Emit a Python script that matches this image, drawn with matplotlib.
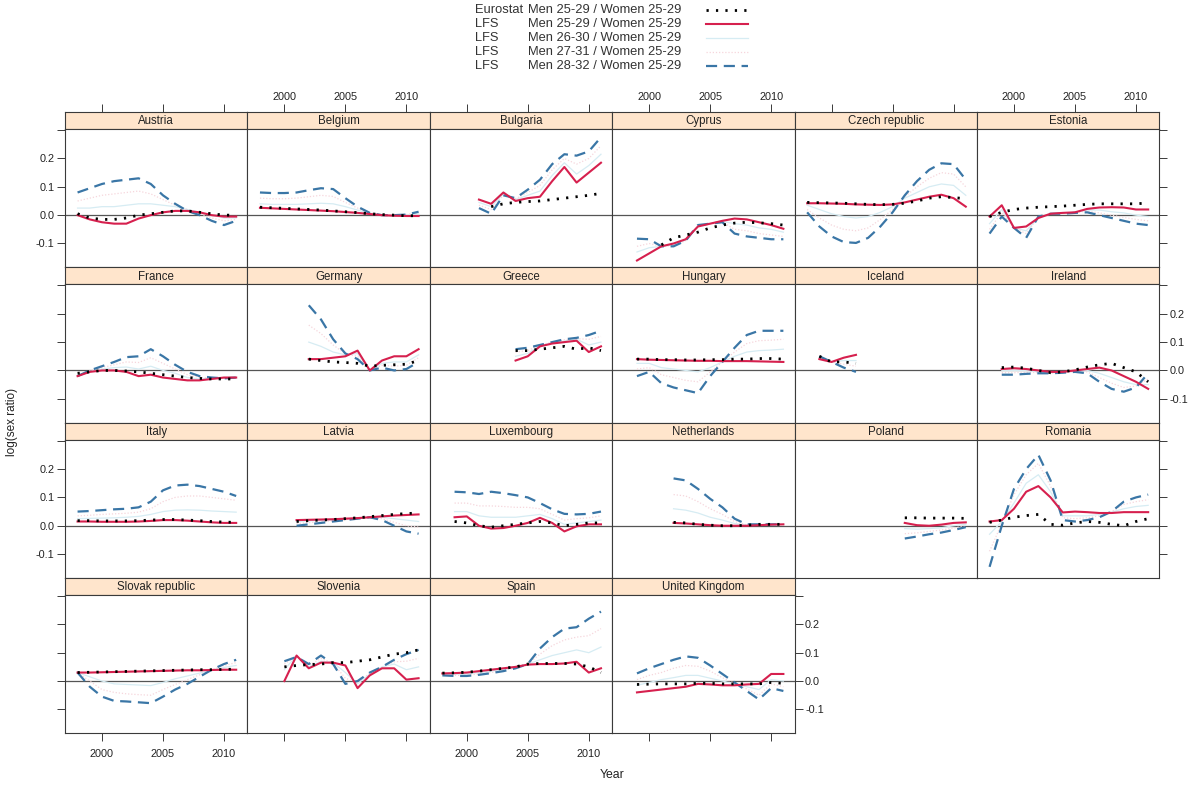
import numpy as np
import matplotlib
matplotlib.use('Agg')
import matplotlib.pyplot as plt
from matplotlib.lines import Line2D

plt.rcParams['font.family'] = ['Liberation Sans', 'DejaVu Sans']

N = np.nan
years = list(range(1998, 2012))

countries = ["Austria", "Belgium", "Bulgaria", "Cyprus", "Czech republic", "Estonia",
             "France", "Germany", "Greece", "Hungary", "Iceland", "Ireland",
             "Italy", "Latvia", "Luxembourg", "Netherlands", "Poland", "Romania",
             "Slovak republic", "Slovenia", "Spain", "United Kingdom"]

# Eurostat Men 25-29 / Women 25-29
eurostat = {
    "Austria": [0.005, -0.01, -0.015, -0.015, -0.01, 0.0, 0.005, 0.01, 0.015, 0.015, 0.01, 0.005, 0.0, 0.0],
    "Belgium": [0.028, 0.026, 0.024, 0.022, 0.02, 0.018, 0.015, 0.012, 0.009, 0.005, 0.002, 0.0, -0.002, -0.002],
    "Bulgaria": [N, N, N, N, 0.03, 0.04, 0.045, 0.048, 0.05, 0.055, 0.06, 0.065, 0.07, 0.077],
    "Cyprus": [N, N, N, -0.105, -0.08, -0.07, -0.06, -0.045, -0.035, -0.028, -0.025, -0.027, -0.03, -0.035],
    "Czech republic": [0.045, 0.044, 0.043, 0.042, 0.04, 0.038, 0.037, 0.038, 0.042, 0.05, 0.06, 0.065, 0.062, 0.058],
    "Estonia": [-0.005, 0.01, 0.02, 0.025, 0.028, 0.03, 0.032, 0.035, 0.038, 0.04, 0.04, 0.04, 0.04, 0.043],
    "France": [-0.01, -0.005, 0.0, 0.0, -0.002, -0.005, -0.01, -0.015, -0.02, -0.025, -0.028, -0.03, -0.03, -0.03],
    "Germany": [N, N, N, N, 0.04, 0.035, 0.03, 0.028, 0.025, 0.015, 0.018, 0.02, 0.022, 0.035],
    "Greece": [N, N, N, N, N, N, 0.07, 0.07, 0.075, 0.08, 0.085, 0.075, 0.08, 0.07],
    "Hungary": [N, 0.04, 0.04, 0.038, 0.038, 0.037, 0.037, 0.038, 0.038, 0.04, 0.04, 0.042, 0.042, 0.04],
    "Iceland": [N, 0.05, 0.03, 0.03, 0.025, N, N, N, N, N, N, N, N, N],
    "Ireland": [N, 0.01, 0.012, 0.008, 0.0, -0.008, -0.005, 0.002, 0.012, 0.02, 0.025, 0.01, -0.005, -0.04],
    "Italy": [0.018, 0.018, 0.017, 0.017, 0.017, 0.018, 0.02, 0.022, 0.022, 0.02, 0.018, 0.015, 0.013, 0.012],
    "Latvia": [N, N, N, 0.015, 0.018, 0.02, 0.022, 0.025, 0.028, 0.032, 0.036, 0.04, 0.043, 0.045],
    "Luxembourg": [N, 0.015, 0.01, 0.0, -0.005, 0.0, 0.005, 0.01, 0.015, 0.01, 0.0, 0.005, 0.01, 0.01],
    "Netherlands": [N, N, N, N, 0.012, 0.01, 0.005, 0.002, 0.0, 0.0, 0.002, 0.005, 0.005, 0.005],
    "Poland": [N, N, N, N, N, N, N, N, 0.028, 0.028, 0.027, 0.027, 0.027, 0.026],
    "Romania": [0.012, 0.02, 0.03, 0.036, 0.04, 0.005, 0.002, 0.01, 0.015, 0.012, 0.005, 0.0, 0.015, 0.025],
    "Slovak republic": [0.03, 0.031, 0.032, 0.033, 0.034, 0.035, 0.036, 0.037, 0.038, 0.039, 0.04, 0.04, 0.041, 0.042],
    "Slovenia": [N, N, 0.05, 0.055, 0.058, 0.06, 0.065, 0.065, 0.07, 0.075, 0.085, 0.095, 0.1, 0.11],
    "Spain": [0.028, 0.029, 0.031, 0.035, 0.04, 0.045, 0.05, 0.06, 0.062, 0.062, 0.062, 0.06, 0.05, 0.03],
    "United Kingdom": [N, -0.012, -0.011, -0.01, -0.01, -0.01, -0.008, -0.008, -0.01, -0.01, -0.01, -0.01, -0.005, -0.008],
}

# LFS Men 25-29 / Women 25-29
lfs_25_29 = {
    "Austria": [0.0, -0.015, -0.025, -0.03, -0.03, -0.012, 0.0, 0.01, 0.015, 0.015, 0.01, 0.0, -0.005, -0.005],
    "Belgium": [0.026, 0.024, 0.022, 0.02, 0.018, 0.016, 0.014, 0.011, 0.008, 0.004, 0.0, -0.002, -0.003, -0.003],
    "Bulgaria": [N, N, N, 0.055, 0.04, 0.08, 0.05, 0.06, 0.065, 0.12, 0.17, 0.115, 0.15, 0.185],
    "Cyprus": [N, -0.16, -0.135, -0.11, -0.1, -0.085, -0.04, -0.03, -0.02, -0.012, -0.015, -0.025, -0.035, -0.048],
    "Czech republic": [0.042, 0.042, 0.041, 0.04, 0.038, 0.037, 0.036, 0.038, 0.045, 0.055, 0.065, 0.072, 0.06, 0.03],
    "Estonia": [-0.005, 0.035, -0.045, -0.04, -0.01, 0.005, 0.008, 0.01, 0.022, 0.027, 0.028, 0.027, 0.02, 0.02],
    "France": [-0.02, -0.005, 0.0, 0.0, -0.005, -0.02, -0.015, -0.025, -0.03, -0.035, -0.035, -0.03, -0.025, -0.025],
    "Germany": [N, N, N, N, 0.04, 0.04, 0.045, 0.05, 0.07, 0.0, 0.035, 0.05, 0.05, 0.075],
    "Greece": [N, N, N, N, N, N, 0.035, 0.05, 0.085, 0.095, 0.1, 0.105, 0.065, 0.085],
    "Hungary": [N, 0.04, 0.038, 0.037, 0.036, 0.035, 0.034, 0.034, 0.033, 0.033, 0.033, 0.032, 0.031, 0.03],
    "Iceland": [N, 0.04, 0.03, 0.045, 0.055, N, N, N, N, N, N, N, N, N],
    "Ireland": [N, 0.005, 0.008, 0.005, 0.0, -0.005, -0.005, 0.0, 0.005, 0.01, 0.0, -0.02, -0.04, -0.065],
    "Italy": [0.015, 0.015, 0.014, 0.014, 0.014, 0.015, 0.017, 0.02, 0.02, 0.018, 0.015, 0.012, 0.01, 0.01],
    "Latvia": [N, N, N, 0.02, 0.021, 0.022, 0.023, 0.025, 0.027, 0.03, 0.033, 0.036, 0.038, 0.04],
    "Luxembourg": [N, 0.03, 0.033, 0.0, -0.01, -0.008, 0.0, 0.01, 0.028, 0.01, -0.02, -0.002, 0.005, 0.005],
    "Netherlands": [N, N, N, N, 0.01, 0.008, 0.005, 0.002, 0.0, 0.0, 0.0, 0.002, 0.004, 0.005],
    "Poland": [N, N, N, N, N, N, N, N, 0.01, 0.002, 0.0, 0.004, 0.01, 0.012],
    "Romania": [0.015, 0.02, 0.06, 0.12, 0.14, 0.1, 0.047, 0.05, 0.048, 0.045, 0.045, 0.048, 0.048, 0.048],
    "Slovak republic": [0.03, 0.03, 0.031, 0.032, 0.033, 0.034, 0.035, 0.036, 0.037, 0.038, 0.038, 0.039, 0.04, 0.04],
    "Slovenia": [N, N, 0.0, 0.09, 0.045, 0.065, 0.065, 0.055, -0.025, 0.02, 0.045, 0.045, 0.005, 0.01],
    "Spain": [0.027, 0.028, 0.03, 0.035, 0.04, 0.045, 0.05, 0.058, 0.06, 0.06, 0.062, 0.068, 0.03, 0.045],
    "United Kingdom": [N, -0.04, -0.035, -0.03, -0.025, -0.02, -0.01, -0.012, -0.015, -0.015, -0.012, -0.01, 0.025, 0.025],
}

# LFS Men 26-30 / Women 25-29
lfs_26_30 = {
    "Austria": [0.025, 0.025, 0.03, 0.03, 0.035, 0.04, 0.04, 0.035, 0.03, 0.02, 0.01, 0.0, -0.01, -0.01],
    "Belgium": [0.04, 0.038, 0.038, 0.038, 0.04, 0.042, 0.04, 0.03, 0.018, 0.006, 0.0, 0.0, 0.0, 0.005],
    "Bulgaria": [N, N, N, 0.045, 0.03, 0.075, 0.055, 0.07, 0.085, 0.14, 0.185, 0.145, 0.175, 0.215],
    "Cyprus": [N, -0.13, -0.115, -0.11, -0.105, -0.088, -0.038, -0.03, -0.022, -0.03, -0.035, -0.045, -0.05, -0.06],
    "Czech republic": [0.035, 0.02, 0.005, -0.005, -0.01, -0.005, 0.01, 0.03, 0.06, 0.08, 0.1, 0.11, 0.105, 0.07],
    "Estonia": [-0.03, 0.02, -0.045, -0.055, -0.01, 0.005, 0.007, 0.01, 0.018, 0.018, 0.012, 0.008, 0.0, -0.005],
    "France": [-0.02, -0.003, 0.005, 0.01, 0.012, 0.005, 0.015, 0.0, -0.01, -0.025, -0.03, -0.028, -0.025, -0.025],
    "Germany": [N, N, N, N, 0.1, 0.085, 0.065, 0.055, 0.06, 0.0, 0.025, 0.03, 0.03, 0.055],
    "Greece": [N, N, N, N, N, N, 0.05, 0.06, 0.088, 0.097, 0.104, 0.11, 0.09, 0.1],
    "Hungary": [N, 0.025, 0.025, 0.01, 0.005, 0.0, -0.005, 0.01, 0.03, 0.05, 0.065, 0.07, 0.072, 0.075],
    "Iceland": [N, 0.045, 0.03, 0.035, 0.035, N, N, N, N, N, N, N, N, N],
    "Ireland": [N, 0.0, 0.0, 0.0, -0.005, -0.008, -0.006, -0.002, 0.0, -0.01, -0.025, -0.04, -0.05, -0.05],
    "Italy": [0.025, 0.026, 0.027, 0.028, 0.03, 0.033, 0.04, 0.05, 0.055, 0.056, 0.055, 0.052, 0.05, 0.048],
    "Latvia": [N, N, N, 0.015, 0.017, 0.019, 0.021, 0.024, 0.027, 0.03, 0.03, 0.025, 0.02, 0.015],
    "Luxembourg": [N, 0.05, 0.05, 0.035, 0.03, 0.03, 0.03, 0.035, 0.04, 0.025, 0.005, 0.01, 0.015, 0.02],
    "Netherlands": [N, N, N, N, 0.06, 0.055, 0.045, 0.03, 0.02, 0.008, 0.002, 0.003, 0.004, 0.005],
    "Poland": [N, N, N, N, N, N, N, N, -0.01, -0.012, -0.01, -0.007, 0.0, 0.005],
    "Romania": [-0.03, 0.015, 0.08, 0.15, 0.18, 0.12, 0.035, 0.035, 0.035, 0.04, 0.048, 0.06, 0.068, 0.072],
    "Slovak republic": [0.03, 0.015, 0.0, -0.01, -0.012, -0.014, -0.016, -0.005, 0.008, 0.018, 0.028, 0.038, 0.048, 0.055],
    "Slovenia": [N, N, 0.04, 0.09, 0.05, 0.07, 0.065, 0.03, -0.01, 0.025, 0.05, 0.06, 0.04, 0.05],
    "Spain": [0.025, 0.024, 0.025, 0.03, 0.035, 0.04, 0.048, 0.06, 0.075, 0.09, 0.1, 0.11, 0.1, 0.12],
    "United Kingdom": [N, -0.015, -0.005, 0.005, 0.012, 0.02, 0.02, 0.01, 0.0, -0.01, -0.02, -0.03, 0.005, 0.0],
}

# LFS Men 27-31 / Women 25-29
lfs_27_31 = {
    "Austria": [0.05, 0.06, 0.07, 0.075, 0.08, 0.085, 0.075, 0.055, 0.035, 0.02, 0.005, -0.01, -0.02, -0.015],
    "Belgium": [0.06, 0.058, 0.058, 0.06, 0.065, 0.07, 0.066, 0.045, 0.025, 0.008, 0.0, 0.0, 0.002, 0.01],
    "Bulgaria": [N, N, N, 0.035, 0.02, 0.07, 0.058, 0.08, 0.105, 0.16, 0.2, 0.18, 0.2, 0.245],
    "Cyprus": [N, -0.11, -0.1, -0.11, -0.108, -0.09, -0.036, -0.03, -0.024, -0.05, -0.055, -0.065, -0.07, -0.075],
    "Czech republic": [0.02, -0.01, -0.035, -0.05, -0.055, -0.045, -0.015, 0.02, 0.065, 0.1, 0.13, 0.15, 0.145, 0.1],
    "Estonia": [-0.05, 0.01, -0.045, -0.065, -0.008, 0.005, 0.006, 0.009, 0.014, 0.008, 0.0, -0.008, -0.015, -0.02],
    "France": [-0.02, -0.002, 0.01, 0.02, 0.03, 0.028, 0.045, 0.025, 0.005, -0.015, -0.025, -0.027, -0.027, -0.025],
    "Germany": [N, N, N, N, 0.16, 0.13, 0.09, 0.058, 0.05, 0.0, 0.018, 0.015, 0.018, 0.045],
    "Greece": [N, N, N, N, N, N, 0.065, 0.07, 0.09, 0.1, 0.108, 0.112, 0.11, 0.12],
    "Hungary": [N, 0.005, 0.01, -0.015, -0.025, -0.035, -0.04, -0.005, 0.03, 0.065, 0.095, 0.105, 0.107, 0.11],
    "Iceland": [N, 0.048, 0.03, 0.022, 0.015, N, N, N, N, N, N, N, N, N],
    "Ireland": [N, -0.008, -0.008, -0.006, -0.008, -0.009, -0.007, -0.004, -0.005, -0.025, -0.045, -0.06, -0.055, -0.03],
    "Italy": [0.035, 0.037, 0.04, 0.042, 0.044, 0.048, 0.06, 0.085, 0.1, 0.105, 0.105, 0.1, 0.095, 0.09],
    "Latvia": [N, N, N, 0.008, 0.011, 0.014, 0.018, 0.022, 0.026, 0.03, 0.025, 0.012, 0.0, -0.005],
    "Luxembourg": [N, 0.08, 0.08, 0.07, 0.07, 0.068, 0.065, 0.065, 0.06, 0.04, 0.02, 0.025, 0.028, 0.035],
    "Netherlands": [N, N, N, N, 0.11, 0.105, 0.085, 0.06, 0.04, 0.015, 0.003, 0.004, 0.005, 0.005],
    "Poland": [N, N, N, N, N, N, N, N, -0.028, -0.025, -0.02, -0.015, -0.008, 0.0],
    "Romania": [-0.09, 0.008, 0.11, 0.18, 0.22, 0.14, 0.028, 0.025, 0.028, 0.035, 0.05, 0.075, 0.085, 0.092],
    "Slovak republic": [0.03, 0.0, -0.03, -0.04, -0.045, -0.048, -0.05, -0.03, -0.012, 0.005, 0.022, 0.04, 0.055, 0.065],
    "Slovenia": [N, N, 0.06, 0.088, 0.055, 0.08, 0.062, 0.01, -0.005, 0.028, 0.05, 0.068, 0.07, 0.08],
    "Spain": [0.022, 0.02, 0.02, 0.025, 0.03, 0.038, 0.046, 0.06, 0.095, 0.125, 0.145, 0.155, 0.16, 0.185],
    "United Kingdom": [N, 0.005, 0.02, 0.03, 0.045, 0.055, 0.052, 0.035, 0.012, -0.008, -0.028, -0.05, -0.01, -0.02],
}

# LFS Men 28-32 / Women 25-29
lfs_28_32 = {
    "Austria": [0.08, 0.095, 0.11, 0.12, 0.125, 0.13, 0.11, 0.07, 0.04, 0.015, 0.0, -0.02, -0.035, -0.02],
    "Belgium": [0.08, 0.078, 0.078, 0.08, 0.088, 0.095, 0.092, 0.06, 0.03, 0.008, 0.0, 0.0, 0.002, 0.012],
    "Bulgaria": [N, N, N, 0.025, 0.005, 0.07, 0.06, 0.09, 0.125, 0.18, 0.215, 0.21, 0.225, 0.275],
    "Cyprus": [N, -0.083, -0.085, -0.11, -0.11, -0.09, -0.035, -0.03, -0.025, -0.065, -0.075, -0.08, -0.085, -0.085],
    "Czech republic": [0.01, -0.04, -0.075, -0.095, -0.098, -0.08, -0.04, 0.01, 0.07, 0.12, 0.16, 0.183, 0.18, 0.125],
    "Estonia": [-0.065, -0.005, -0.045, -0.08, -0.005, 0.005, 0.005, 0.008, 0.01, 0.0, -0.01, -0.02, -0.03, -0.035],
    "France": [-0.02, 0.0, 0.015, 0.03, 0.047, 0.05, 0.075, 0.05, 0.02, -0.005, -0.02, -0.025, -0.028, -0.025],
    "Germany": [N, N, N, N, 0.23, 0.18, 0.11, 0.06, 0.04, 0.0, 0.01, 0.0, 0.005, 0.03],
    "Greece": [N, N, N, N, N, N, 0.075, 0.08, 0.09, 0.1, 0.11, 0.115, 0.125, 0.14],
    "Hungary": [N, -0.02, -0.005, -0.045, -0.06, -0.07, -0.08, -0.02, 0.03, 0.08, 0.125, 0.14, 0.14, 0.14],
    "Iceland": [N, 0.05, 0.03, 0.01, -0.005, N, N, N, N, N, N, N, N, N],
    "Ireland": [N, -0.015, -0.015, -0.012, -0.01, -0.01, -0.008, -0.005, -0.01, -0.04, -0.065, -0.075, -0.06, -0.01],
    "Italy": [0.05, 0.052, 0.055, 0.058, 0.06, 0.065, 0.085, 0.125, 0.142, 0.145, 0.14, 0.13, 0.12, 0.105],
    "Latvia": [N, N, N, 0.0, 0.005, 0.01, 0.015, 0.02, 0.025, 0.03, 0.02, 0.0, -0.02, -0.028],
    "Luxembourg": [N, 0.12, 0.118, 0.112, 0.12, 0.115, 0.108, 0.1, 0.08, 0.058, 0.042, 0.04, 0.042, 0.05],
    "Netherlands": [N, N, N, N, 0.167, 0.16, 0.13, 0.095, 0.065, 0.025, 0.005, 0.005, 0.005, 0.005],
    "Poland": [N, N, N, N, N, N, N, N, -0.045, -0.038, -0.03, -0.024, -0.015, -0.005],
    "Romania": [-0.145, 0.0, 0.13, 0.2, 0.25, 0.16, 0.02, 0.015, 0.02, 0.03, 0.05, 0.085, 0.1, 0.11],
    "Slovak republic": [0.03, -0.02, -0.055, -0.07, -0.072, -0.075, -0.078, -0.055, -0.03, -0.01, 0.015, 0.04, 0.06, 0.075],
    "Slovenia": [N, N, 0.07, 0.085, 0.06, 0.09, 0.06, -0.01, 0.0, 0.03, 0.05, 0.075, 0.095, 0.11],
    "Spain": [0.02, 0.018, 0.018, 0.022, 0.028, 0.035, 0.045, 0.06, 0.115, 0.155, 0.185, 0.19, 0.22, 0.245],
    "United Kingdom": [N, 0.027, 0.045, 0.06, 0.075, 0.087, 0.082, 0.055, 0.025, -0.005, -0.035, -0.065, -0.025, -0.035],
}

legend_src = ["Eurostat", "LFS", "LFS", "LFS", "LFS"]
legend_lbl = ["Men 25-29 / Women 25-29", "Men 25-29 / Women 25-29", "Men 26-30 / Women 25-29",
              "Men 27-31 / Women 25-29", "Men 28-32 / Women 25-29"]

y_ticks = [-0.1, 0.0, 0.1, 0.2, 0.3]
y_ticklabels = ["-0.1", "0.0", "0.1", "0.2", ""]
x_ticks = [2000, 2005, 2010]
x_ticklabels = ["2000", "2005", "2010"]

# ---- styles ----
styles = [
    dict(color="#F6D6DC", lw=0.9, ls=(0, (1, 1.5))),                # 27-31 (faint)
    dict(color="#D6ECF3", lw=0.9, ls="-"),                          # 26-30 (faint)
    dict(color="#3A76A6", lw=1.6, ls=(0, (5, 3))),                 # 28-32 dashed
    dict(color="#D6204E", lw=1.5, ls="-"),                          # 25-29 solid
    dict(color="black", lw=2.0, ls=(0, (0.8, 2.6))),                # Eurostat dotted
]
series_order = [lfs_27_31, lfs_26_30, lfs_28_32, lfs_25_29, eurostat]
legend_styles = [styles[4], styles[3], styles[1], styles[0], styles[2]]

W, H = 1197, 786
fig = plt.figure(figsize=(W / 100, H / 100), dpi=100)

def rect(x0, ytop, w, h):
    return [x0 / W, 1 - (ytop + h) / H, w / W, h / H]

left0, colw = 65.0, 182.4
top0, rowp, striph = 112.0, 155.3, 17.0
panh = rowp - striph
xlim = (1996.97, 2011.92)
ylim = (-0.184, 0.304)
border = "#3a3a3a"
txtc = "#222222"
fs_tick = 7.8

ncol = 6
ncountry = len(countries)
for i, name in enumerate(countries):
    r, c = divmod(i, ncol)
    x0 = left0 + c * colw
    st = top0 + r * rowp
    # strip
    sax = fig.add_axes(rect(x0, st, colw, striph))
    sax.set_facecolor("#FFE5CC")
    sax.set_xlim(*xlim)
    sax.set_ylim(0, 1)
    sax.set_yticks([])
    for sp in sax.spines.values():
        sp.set_color(border)
        sp.set_linewidth(0.8)
    sax.text(0.5, 0.45, name, transform=sax.transAxes, ha="center", va="center",
             fontsize=8.3, color=txtc)
    if r == 0:
        sax.xaxis.set_ticks_position("top")
        sax.set_xticks(x_ticks)
        sax.tick_params(axis="x", direction="out", length=5.5, width=0.7, color=border,
                        labelsize=fs_tick, labelcolor=txtc, pad=2)
        if c % 2 == 1:
            sax.set_xticklabels(x_ticklabels)
        else:
            sax.set_xticklabels([])
    else:
        sax.set_xticks([])

    # panel
    ax = fig.add_axes(rect(x0, st + striph, colw, panh))
    ax.set_xlim(*xlim)
    ax.set_ylim(*ylim)
    for sp in ax.spines.values():
        sp.set_color(border)
        sp.set_linewidth(0.8)
    ax.axhline(0, color="#555555", lw=0.9, zorder=1)
    for ser, st_ in zip(series_order, styles):
        ax.plot(years, ser[name], color=st_["color"], lw=st_["lw"], ls=st_["ls"], zorder=2)

    # x ticks at bottom for last panel of each column
    below = i + ncol
    if below >= ncountry and r == 3:
        ax.set_xticks(x_ticks)
        ax.tick_params(axis="x", direction="out", length=5.5, width=0.7, color=border,
                       labelsize=fs_tick, labelcolor=txtc, pad=6)
        if c % 2 == 0:
            ax.set_xticklabels(x_ticklabels)
        else:
            ax.set_xticklabels([])
    else:
        ax.set_xticks([])

    # y ticks
    is_left = (c == 0)
    is_right = (c == ncol - 1) or (i == ncountry - 1)
    if is_left or is_right:
        ax.set_yticks(y_ticks)
        ax.tick_params(axis="y", direction="out", length=5.5, width=0.7, color=border,
                       labelsize=fs_tick, labelcolor=txtc, pad=2, left=is_left, right=is_right,
                       labelleft=(is_left and r % 2 == 0), labelright=(is_right and r % 2 == 1))
        ax.set_yticklabels(y_ticklabels)
    else:
        ax.set_yticks([])

# legend
lax = fig.add_axes(rect(460, 2, 300, 74))
lax.set_xlim(460, 760)
lax.set_ylim(76, 2)
lax.axis("off")
rows_y = [10, 24, 38, 52, 66]
for yy, src, lbl, sty in zip(rows_y, legend_src, legend_lbl, legend_styles):
    lax.text(475, yy, src, ha="left", va="center", fontsize=9.3, color="#333333")
    lax.text(528, yy, lbl, ha="left", va="center", fontsize=9.3, color="#333333")
    lax.add_line(Line2D([706, 748], [yy, yy], color=sty["color"], lw=sty["lw"], ls=sty["ls"]))

fig.text(12 / W, 1 - 422 / H, "log(sex ratio)", rotation=90, ha="center", va="center",
         fontsize=8.5, color=txtc)
fig.text(612 / W, 1 - 775 / H, "Year", ha="center", va="center", fontsize=8.8, color=txtc)

fig.savefig("out.png", dpi=100, facecolor="white")
